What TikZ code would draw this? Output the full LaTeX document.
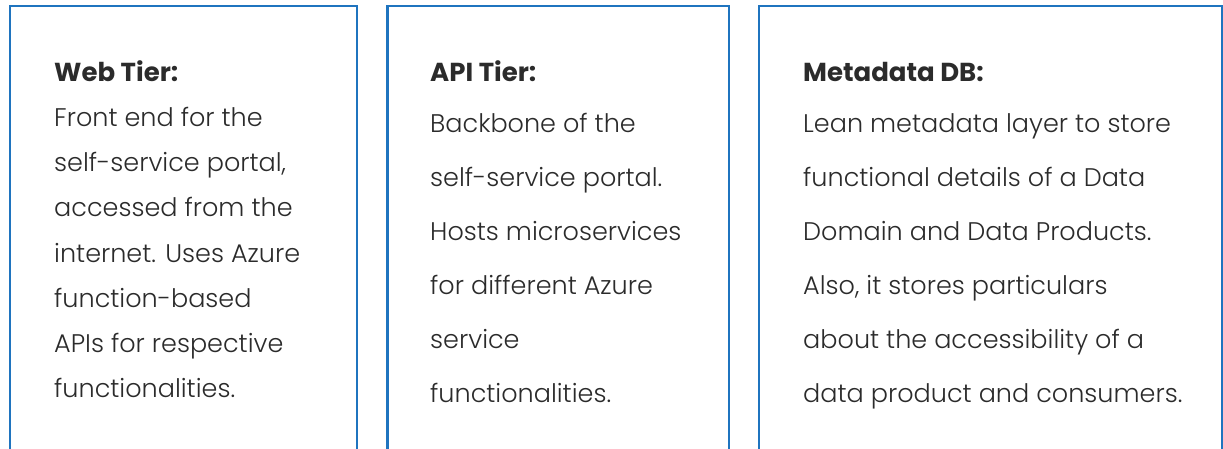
\documentclass[tikz,border=0pt]{standalone}
\usepackage{fontspec}
\setmainfont{Poppins}[UprightFont=* Light, BoldFont=* Bold]
\definecolor{frameblue}{HTML}{1F74BF}
\definecolor{inktext}{HTML}{2B2B2B}
\tikzset{
  panel/.style={draw=frameblue, line width=2.6pt},
  heading/.style={anchor=base west, inner sep=0pt, text=inktext,
    font=\fontsize{26}{30}\selectfont\bfseries},
  bodyline/.style={anchor=base west, inner sep=0pt, text=inktext,
    font=\fontsize{25.5}{30}\selectfont},
}
\begin{document}
\begin{tikzpicture}[x=1pt, y=-1pt]
  \useasboundingbox (0,0) rectangle (1223,449);

  % three panels, open at the bottom
  \draw[panel] (10,470) -- (10,6) -- (357,6) -- (357,470);
  \draw[panel] (387.5,470) -- (387.5,6) -- (729,6) -- (729,470);
  \draw[panel] (759,470) -- (759,6) -- (1222,6) -- (1222,470);

  % Web tier
  \node[heading] (webT) at (54,82) {Web Tier:};
  \foreach \txt [count=\i from 0] in {Front end for the, {self-service portal,},
      accessed from the, internet. Uses Azure, function-based,
      APIs for respective, functionalities.}
    \node[bodyline] (web\i) at (54,127+45*\i) {\txt};

  % API tier
  \node[heading] (apiT) at (430,82) {API Tier:};
  \foreach \txt [count=\i from 0] in {Backbone of the, self-service portal.,
      Hosts microservices, for different Azure, service, functionalities.}
    \node[bodyline] (api\i) at (430,133+53.8*\i) {\txt};

  % Metadata store
  \node[heading] (metaT) at (803,82) {Metadata DB:};
  \foreach \txt [count=\i from 0] in {Lean metadata layer to store,
      functional details of a Data, Domain and Data Products.,
      {Also, it stores particulars}, about the accessibility of a,
      data product and consumers.}
    \node[bodyline] (meta\i) at (803,133+53.8*\i) {\txt};
\end{tikzpicture}
\end{document}
